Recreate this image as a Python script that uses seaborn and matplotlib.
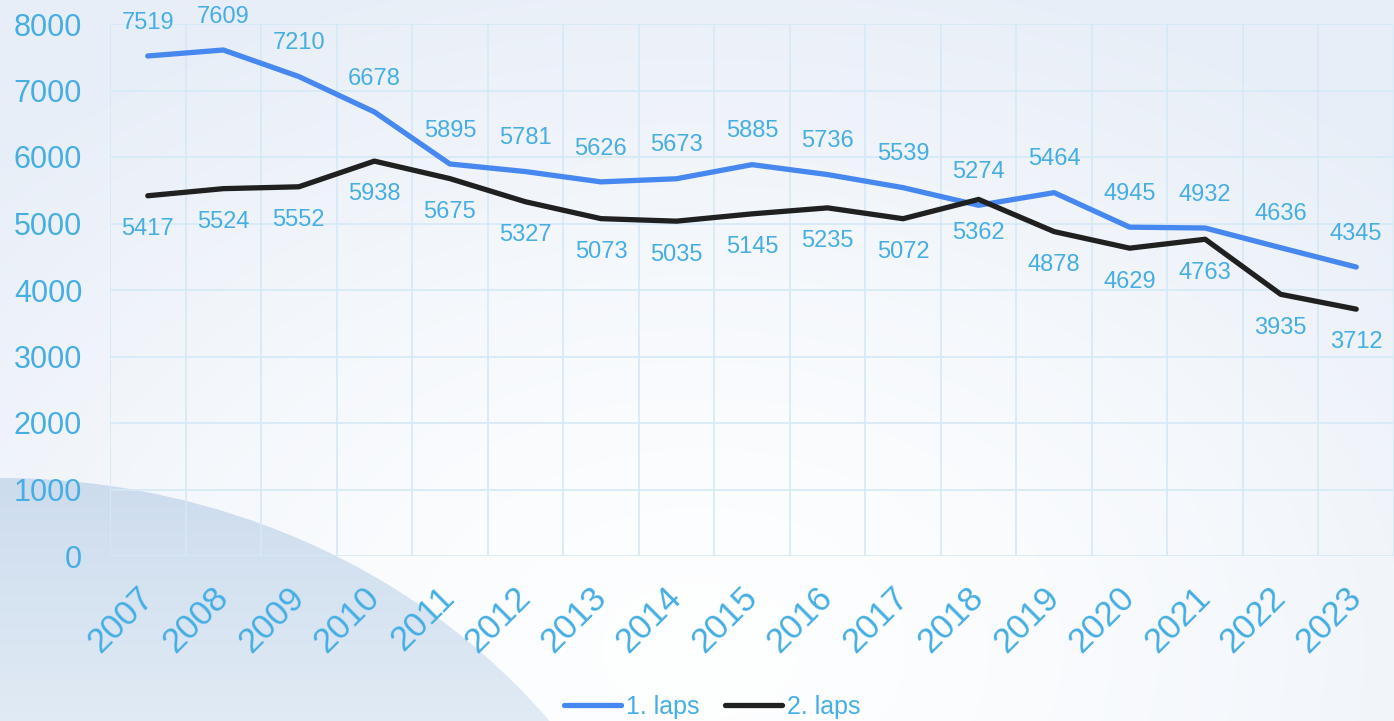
import numpy as np
import pandas as pd
import matplotlib
matplotlib.use("Agg")
import matplotlib.pyplot as plt
from matplotlib.patches import Ellipse
import seaborn as sns

# Chart data
YEARS = ['2007', '2008', '2009', '2010', '2011', '2012', '2013', '2014', '2015',
         '2016', '2017', '2018', '2019', '2020', '2021', '2022', '2023']
LAP_1 = [7519, 7609, 7210, 6678, 5895, 5781, 5626, 5673, 5885, 5736, 5539,
         5274, 5464, 4945, 4932, 4636, 4345]
LAP_2 = [5417, 5524, 5552, 5938, 5675, 5327, 5073, 5035, 5145, 5235, 5072,
         5362, 4878, 4629, 4763, 3935, 3712]
SERIES = ['1. laps', '2. laps']
Y_TICKS = [0, 1000, 2000, 3000, 4000, 5000, 6000, 7000, 8000]

TEXT_COLOR = '#46aee3'
GRID_COLOR = '#d4e9f6'
PALETTE = {'1. laps': '#4787f0', '2. laps': '#202020'}

sns.set_theme(style="white")
plt.rcParams['font.family'] = ['Liberation Sans', 'DejaVu Sans']

df = pd.DataFrame({
    'Year': YEARS * 2,
    'Count': LAP_1 + LAP_2,
    'Series': [SERIES[0]] * len(YEARS) + [SERIES[1]] * len(YEARS),
})

fig = plt.figure(figsize=(13.94, 7.21), dpi=100)

# --- background: soft blue gradient with a curved shape bottom-left ---
bg = fig.add_axes([0, 0, 1, 1], zorder=-1)
bg.set_xlim(0, 1394)
bg.set_ylim(721, 0)
bg.axis('off')
yy, xx = np.mgrid[0:721, 0:1394]
dist = np.sqrt(((xx - 700) / 1000.0) ** 2 + ((yy - 650) / 700.0) ** 2)
t = (np.clip(dist, 0, 1) ** 1.5)[..., None]
light = np.array([0.995, 0.998, 1.0])
tint = np.array([0.91, 0.935, 0.97])
bg.imshow(light * (1 - t) + tint * t, extent=(0, 1394, 721, 0), aspect='auto')

shape = Ellipse((0, 1100), 2 * 693, 2 * 622, facecolor='none', edgecolor='none')
bg.add_patch(shape)
g = np.linspace(0, 1, 256)[:, None, None]
top_c = np.array([0.80, 0.86, 0.93])
bot_c = np.array([0.88, 0.92, 0.96])
grad = np.repeat(top_c * (1 - g) + bot_c * g, 2, axis=1)
im = bg.imshow(grad, extent=(0, 700, 721, 470), aspect='auto')
im.set_clip_path(shape)

# --- main chart ---
ax = fig.add_axes([110 / 1394, 1 - 556 / 721, 1 - 110 / 1394, (556 - 24) / 721])
ax.set_facecolor('none')

sns.lineplot(data=df, x='Year', y='Count', hue='Series', palette=PALETTE,
             linewidth=3.8, sort=False, ax=ax, legend=True)

for yr, v in zip(YEARS, LAP_1):
    ax.annotate(str(v), (yr, v), xytext=(0, 24), textcoords='offset points',
                ha='center', va='center', fontsize=17, color=TEXT_COLOR)
for yr, v in zip(YEARS, LAP_2):
    ax.annotate(str(v), (yr, v), xytext=(0, -24), textcoords='offset points',
                ha='center', va='center', fontsize=17, color=TEXT_COLOR)

ax.set_xlim(-0.5, len(YEARS) - 0.5)
ax.set_ylim(0, 8000)
ax.set_yticks(Y_TICKS)
ax.set_yticklabels([str(v) for v in Y_TICKS], fontsize=22, color=TEXT_COLOR)
ax.set_xticks(range(len(YEARS)))
ax.set_xticklabels(YEARS, fontsize=25, color=TEXT_COLOR, rotation=45,
                   ha='right', va='center', rotation_mode='anchor')
ax.set_xticks(np.arange(-0.5, len(YEARS), 1.0), minor=True)
ax.tick_params(axis='y', length=0, pad=20)
ax.tick_params(axis='x', which='both', length=0, pad=26)
ax.grid(False)
ax.grid(axis='y', which='major', color=GRID_COLOR, linewidth=1.2)
ax.grid(axis='x', which='minor', color=GRID_COLOR, linewidth=1.2)
ax.set_axisbelow(True)
for s in ax.spines.values():
    s.set_visible(False)
ax.set_xlabel('')
ax.set_ylabel('')

handles, labels = ax.get_legend_handles_labels()
ax.get_legend().remove()
leg = fig.legend(handles, labels, loc='center', bbox_to_anchor=(0.511, 0.02),
                 ncol=2, frameon=False, fontsize=18, handlelength=2.3,
                 handletextpad=0.2, columnspacing=1.0)
for txt in leg.get_texts():
    txt.set_color(TEXT_COLOR)
for line in leg.get_lines():
    line.set_linewidth(3.8)
    line.set_solid_capstyle('round')

fig.savefig('out.png', dpi=100)
